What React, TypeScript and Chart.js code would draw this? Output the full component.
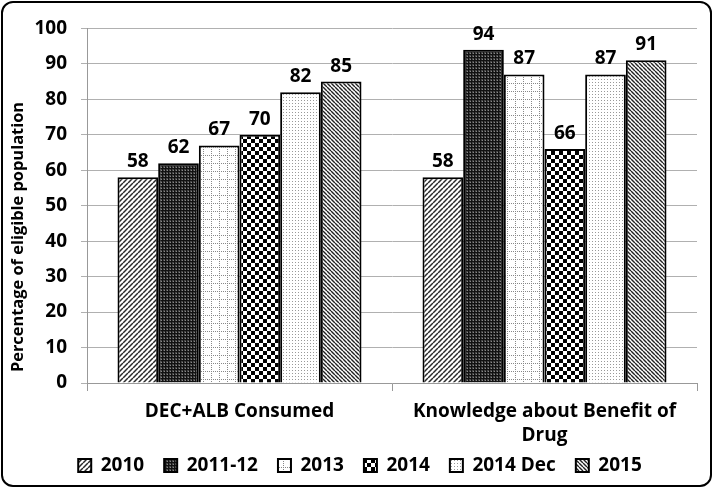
import React, { useEffect, useRef } from "react";
import { Chart, registerables } from "chart.js";
Chart.register(...registerables);

const categories = ["DEC+ALB Consumed", ["Knowledge about Benefit of", "Drug"]];
const seriesNames = ["2010", "2011-12", "2013", "2014", "2014 Dec", "2015"];
const s2010 = [58, 58];
const s2011 = [62, 94];
const s2013 = [67, 87];
const s2014 = [70, 66];
const s2014Dec = [82, 87];
const s2015 = [85, 91];
const yTicks = [0, 10, 20, 30, 40, 50, 60, 70, 80, 90, 100];
const yTitle = "Percentage of eligible population";

const FONT = "'Open Sans', sans-serif";

function makePattern(kind: string): CanvasPattern | string {
  const c = document.createElement("canvas");
  const size =
    kind === "check" ? 8 : kind === "grid" ? 8 : kind === "dots" ? 3 : kind === "dark" ? 3 : kind === "diagL" ? 4 : 5;
  c.width = size;
  c.height = size;
  const g = c.getContext("2d")!;
  g.fillStyle = "#fff";
  g.fillRect(0, 0, size, size);
  if (kind === "diagR") {
    g.strokeStyle = "#2a2a2a";
    g.lineWidth = 1.5;
    g.beginPath();
    for (let o = -size; o <= size; o += size) {
      g.moveTo(o, size);
      g.lineTo(o + size, 0);
    }
    g.stroke();
  } else if (kind === "diagL") {
    g.strokeStyle = "#222";
    g.lineWidth = 1.4;
    g.beginPath();
    for (let o = -size; o <= size; o += size) {
      g.moveTo(o, 0);
      g.lineTo(o + size, size);
    }
    g.stroke();
  } else if (kind === "dark") {
    g.fillStyle = "#444";
    g.fillRect(0, 0, size, size);
    g.fillStyle = "#111";
    g.fillRect(0, 0, 1, size);
    g.fillRect(0, 0, size, 1);
    g.fillStyle = "#888";
    g.fillRect(2, 2, 1, 1);
  } else if (kind === "grid") {
    g.fillStyle = "#888";
    for (let i = 0; i < size; i += 2) {
      g.fillRect(0, i, 1, 1);
      g.fillRect(i, 0, 1, 1);
    }
  } else if (kind === "check") {
    g.fillStyle = "#000";
    g.fillRect(0, 0, 4, 4);
    g.fillRect(4, 4, 4, 4);
  } else if (kind === "dots") {
    g.fillStyle = "#999";
    g.fillRect(1, 1, 1, 1);
  }
  const ctx = document.createElement("canvas").getContext("2d")!;
  return ctx.createPattern(c, "repeat") || "#888";
}

const labelPlugin = {
  id: "valueLabels",
  afterDatasetsDraw(chart: any) {
    const ctx = chart.ctx;
    ctx.save();
    ctx.font = `bold 19px ${FONT}`;
    ctx.fillStyle = "#000";
    ctx.textAlign = "center";
    ctx.textBaseline = "alphabetic";
    chart.data.datasets.forEach((ds: any, i: number) => {
      const meta = chart.getDatasetMeta(i);
      meta.data.forEach((bar: any, j: number) => {
        ctx.fillText(String(ds.data[j]), bar.x, bar.y - 10);
      });
    });
    ctx.restore();
  },
};

const titlePlugin = {
  id: "yTitle",
  afterDraw(chart: any) {
    const ctx = chart.ctx;
    ctx.save();
    ctx.translate(15, 234);
    ctx.rotate(-Math.PI / 2);
    ctx.font = `bold 16.4px ${FONT}`;
    ctx.fillStyle = "#000";
    ctx.textAlign = "center";
    ctx.textBaseline = "middle";
    ctx.fillText(yTitle, 0, 0);
    ctx.restore();
  },
};

// let the two-line category label extend below the axis box without clipping
const unclipPlugin = {
  id: "unclipX",
  afterLayout(chart: any) {
    const x = chart.scales.x;
    x.bottom = x.bottom + 20;
  },
};

export default function App() {
  const ref = useRef<HTMLCanvasElement>(null);
  useEffect(() => {
    const kinds = ["diagR", "dark", "grid", "check", "dots", "diagL"];
    const values = [s2010, s2011, s2013, s2014, s2014Dec, s2015];
    const chart = new Chart(ref.current!, {
      type: "bar",
      data: {
        labels: categories as any,
        datasets: seriesNames.map((n, i) => ({
          label: n,
          data: values[i],
          backgroundColor: makePattern(kinds[i]) as any,
          borderColor: "#000",
          borderWidth: 2,
          barPercentage: 1,
          categoryPercentage: 0.8,
        })),
      },
      options: {
        animation: false,
        responsive: false,
        maintainAspectRatio: false,
        layout: { padding: { top: 25, right: 13, left: 20, bottom: 0 } },
        plugins: {
          legend: {
            position: "bottom",
            labels: {
              boxWidth: 13,
              boxHeight: 13,
              padding: 20,
              color: "#000",
              font: { family: FONT, size: 19, weight: "bold" },
            },
          },
          tooltip: { enabled: false },
        },
        scales: {
          x: {
            afterFit: (s: any) => {
              s.height = 53;
            },
            grid: { offset: true, drawOnChartArea: false, color: "#999", tickLength: 8 },
            border: { color: "#999" },
            ticks: {
              color: "#000",
              padding: 8,
              font: { family: FONT, size: 19, weight: "bold", lineHeight: 1.3 },
            },
          },
          y: {
            min: 0,
            max: 100,
            afterFit: (s: any) => {
              s.width = 64;
            },
            afterBuildTicks: (s: any) => {
              s.ticks = yTicks.map((v) => ({ value: v }));
            },
            grid: { color: "#b0b0b0", tickLength: 6 },
            border: { color: "#999" },
            ticks: {
              color: "#000",
              padding: 14,
              font: { family: FONT, size: 19, weight: "bold" },
            },
          },
        },
      },
      plugins: [labelPlugin, titlePlugin, unclipPlugin],
    });
    return () => chart.destroy();
  }, []);
  return (
    <div
      style={{
        position: "absolute",
        left: 1,
        top: 1,
        width: 711,
        height: 486,
        border: "2px solid #000",
        borderRadius: 12,
        boxSizing: "border-box",
        background: "#fff",
      }}
    >
      <canvas ref={ref} width={707} height={482} style={{ display: "block" }} />
    </div>
  );
}
